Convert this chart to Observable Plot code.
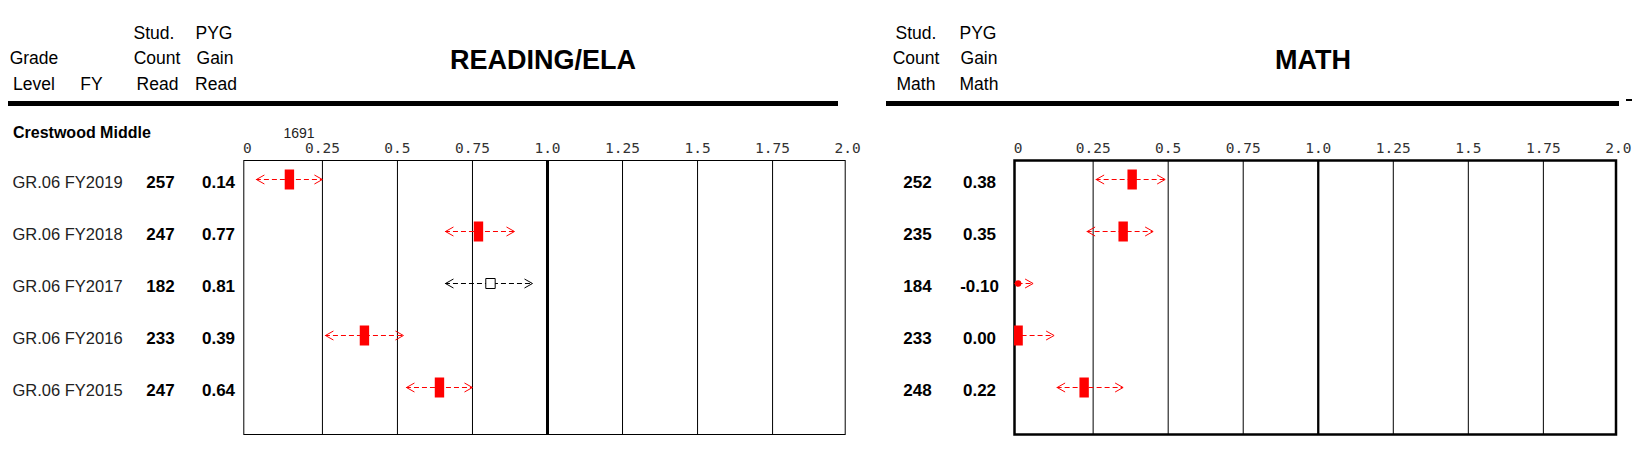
<!DOCTYPE html>
<html><head><meta charset="utf-8">
<script src="https://cdn.jsdelivr.net/npm/d3@7"></script>
<script src="https://cdn.jsdelivr.net/npm/@observablehq/plot@0.6"></script>
<style>
body{margin:0;background:#fff;}
#root{position:relative;width:1632px;height:472px;overflow:hidden;background:#fff;font-family:"Liberation Sans",Arial,sans-serif;color:#000;}
.t{position:absolute;white-space:nowrap;transform:translate(-50%,-50%);line-height:1;}
.l{position:absolute;white-space:nowrap;transform:translate(0,-50%);line-height:1;}
.bar{position:absolute;background:#000;}
.panel{position:absolute;top:110px;}
.panel svg{max-width:none;overflow:visible;}
</style></head><body><div id="root"></div>
<script>
// ---------- data ----------
const years = ["FY2019", "FY2018", "FY2017", "FY2016", "FY2015"];
const grades = ["GR.06", "GR.06", "GR.06", "GR.06", "GR.06"];
const readCount = [257, 247, 182, 233, 247];
const readGain = [0.14, 0.77, 0.81, 0.39, 0.64];
const readLo = [0.03, 0.66, 0.66, 0.26, 0.53];
const readHi = [0.25, 0.89, 0.95, 0.52, 0.75];
const readSig = [true, true, false, true, true];
const mathCount = [252, 235, 184, 233, 248];
const mathGain = [0.38, 0.35, -0.10, 0.00, 0.22];
const mathLo = [0.26, 0.23, -0.24, -0.12, 0.13];
const mathHi = [0.49, 0.45, 0.05, 0.12, 0.35];
const mathSig = [true, true, true, true, true];
const tickValues = [0, 0.25, 0.5, 0.75, 1, 1.25, 1.5, 1.75, 2];
const tickLabels = ["0", "0.25", "0.5", "0.75", "1.0", "1.25", "1.5", "1.75", "2.0"];
const schoolName = "Crestwood Middle";
const schoolNote = "1691";

// ---------- layout helpers ----------
const root = document.getElementById("root");
function label(text, x, y, cls, style) {
  const el = document.createElement("div");
  el.className = cls;
  el.textContent = text;
  el.style.left = x + "px";
  el.style.top = y + "px";
  Object.assign(el.style, style || {});
  root.appendChild(el);
}
function bar(x, y, w, h) {
  const el = document.createElement("div");
  el.className = "bar";
  Object.assign(el.style, {left: x + "px", top: y + "px", width: w + "px", height: h + "px"});
  root.appendChild(el);
}
const hdr = {fontSize: "17.5px"};
label("Grade", 34, 59, "t", hdr); label("Level", 34, 85, "t", hdr);
label("FY", 91.5, 85, "t", hdr);
label("Stud.", 154, 34, "t", hdr); label("Count", 157, 59, "t", hdr); label("Read", 157.5, 85, "t", hdr);
label("PYG", 214, 34, "t", hdr); label("Gain", 215, 59, "t", hdr); label("Read", 216, 85, "t", hdr);
label("Stud.", 916, 34, "t", hdr); label("Count", 916, 59, "t", hdr); label("Math", 916, 85, "t", hdr);
label("PYG", 978, 34, "t", hdr); label("Gain", 979, 59, "t", hdr); label("Math", 979, 85, "t", hdr);
label("READING/ELA", 543, 60, "t", {fontSize: "27px", fontWeight: "bold"});
label("MATH", 1313, 60, "t", {fontSize: "27px", fontWeight: "bold"});
bar(8, 101, 830, 5);
bar(886, 101, 733, 5);
bar(1626, 99, 6, 2);
label(schoolName, 13, 133, "l", {fontSize: "16px", fontWeight: "bold"});
label(schoolNote, 299, 133, "t", {fontSize: "14px", color: "#222"});

// ---------- symbols ----------
const chevL = {draw(ctx) { ctx.moveTo(8, -4.5); ctx.lineTo(0, 0); ctx.lineTo(8, 4.5); }};
const chevR = {draw(ctx) { ctx.moveTo(-8, -4.5); ctx.lineTo(0, 0); ctx.lineTo(-8, 4.5); }};
const boxSym = {draw(ctx) { ctx.rect(-4.7, -10, 9.4, 20); }};
const sqSym = {draw(ctx) { ctx.rect(-4.7, -5, 9.4, 10); }};

function panel({gain, lo, hi, sig, count, left, width, marginLeft, marginRight, heavy, frameW, showGrade, countDx, gainDx}) {
  const rows = years.map((fy, i) => ({fy, grade: grades[i], count: count[i], gain: gain[i], lo: lo[i], hi: hi[i], sig: sig[i], off: gain[i] < 0}));
  const col = d => d.sig ? "#ff0000" : "#000000";
  const grid = tickValues.filter(v => v > 0 && v < 2 && v !== 1);
  const txt = {fontFamily: "Liberation Sans, Arial, sans-serif", fontSize: 17, frameAnchor: "left", y: "fy", dy: 3.5};
  const marks = [
    Plot.ruleX(grid, {stroke: "#000", strokeWidth: 1}),
    Plot.ruleX([1], {stroke: "#000", strokeWidth: heavy}),
    Plot.frame({stroke: "#000", strokeWidth: frameW}),
    Plot.ruleY(rows, {y: "fy", x1: "lo", x2: "hi", stroke: col, strokeWidth: 1, strokeDasharray: "5,3", clip: true}),
    Plot.dot(rows, {x: "lo", y: "fy", symbol: chevL, fill: "none", stroke: col, strokeWidth: 1, clip: true}),
    Plot.dot(rows, {x: "hi", y: "fy", symbol: chevR, fill: "none", stroke: col, strokeWidth: 1, clip: true}),
    Plot.dot(rows.filter(d => !d.off && d.sig), {x: "gain", y: "fy", symbol: boxSym, fill: "#ff0000", stroke: "none", clip: true}),
    Plot.dot(rows.filter(d => !d.off && !d.sig), {x: "gain", y: "fy", symbol: sqSym, fill: "#fff", stroke: "#000", strokeWidth: 1, clip: true}),
    Plot.dot(rows.filter(d => d.off), {x: d => Math.max(d.gain, 0), y: "fy", r: 3.2, fill: "#ff0000", stroke: "none"}),
    Plot.text(rows, {...txt, text: d => String(d.count), dx: countDx, textAnchor: "middle", fontWeight: "bold", fill: "#000"}),
    Plot.text(rows, {...txt, text: d => d.gain.toFixed(2), dx: gainDx, textAnchor: "middle", fontWeight: "bold", fill: "#000"})
  ];
  if (showGrade) {
    marks.push(Plot.text(rows, {...txt, fontSize: 16.5, text: d => `${d.grade} ${d.fy}`, dx: -231.3, textAnchor: "start", fill: "#222"}));
  }
  const svg = Plot.plot({
    width, height: 362, marginTop: 50, marginBottom: 38, marginLeft, marginRight,
    style: {fontFamily: "DejaVu Sans Mono, monospace", fontSize: "14.5px", color: "#333", background: "transparent", overflow: "visible"},
    x: {domain: [-0.012, 1.992], axis: "top", ticks: tickValues, tickFormat: d => tickLabels[tickValues.indexOf(d)], tickSize: 0, tickPadding: 8, label: null},
    y: {type: "point", domain: years, axis: null, padding: 0, insetTop: 17, insetBottom: 45.5},
    color: {type: "identity"},
    marks
  });
  const div = document.createElement("div");
  div.className = "panel";
  div.style.left = left + "px";
  div.appendChild(svg);
  root.appendChild(div);
}

panel({gain: readGain, lo: readLo, hi: readHi, sig: readSig, count: readCount,
  left: 0, width: 870, marginLeft: 243.3, marginRight: 25.3, heavy: 3, frameW: 1,
  showGrade: true, countDx: -83.3, gainDx: -25.3});
panel({gain: mathGain, lo: mathLo, hi: mathHi, sig: mathSig, count: mathCount,
  left: 850, width: 782, marginLeft: 164, marginRight: 16.5, heavy: 2.3, frameW: 2.5,
  showGrade: false, countDx: -97, gainDx: -35});
</script>
</body></html>
